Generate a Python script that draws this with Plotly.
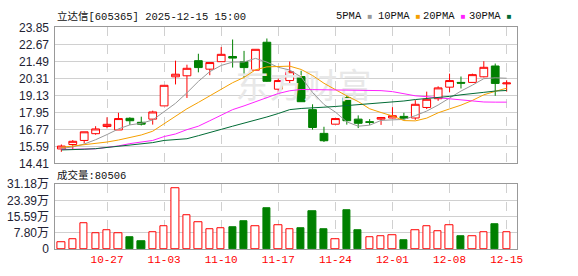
import plotly.graph_objects as go

# ---------------- data ----------------
dates = ["10-21", "10-22", "10-23", "10-24", "10-27", "10-28", "10-29", "10-30", "10-31",
         "11-03", "11-04", "11-05", "11-06", "11-07", "11-10", "11-11", "11-12", "11-13", "11-14",
         "11-17", "11-18", "11-19", "11-20", "11-21", "11-24", "11-25", "11-26", "11-27", "11-28",
         "12-01", "12-02", "12-03", "12-04", "12-05", "12-08", "12-09", "12-10", "12-11", "12-12",
         "12-15"]

open_ = [15.41, 15.72, 16.00, 16.47, 16.97, 16.73, 17.54, 17.26, 17.48, 18.40,
         20.42, 20.49, 21.54, 20.95, 21.47, 21.83, 21.47, 20.88, 22.82, 19.56,
         20.16, 20.44, 18.14, 16.49, 17.13, 18.97, 17.48, 17.30, 17.48, 17.56,
         17.67, 17.56, 18.29, 18.90, 19.70, 20.03, 20.03, 20.42, 21.17, 19.93]
high = [15.72, 16.03, 16.60, 16.99, 17.61, 17.92, 17.61, 17.65, 18.07, 19.83,
        21.54, 21.26, 22.02, 21.41, 22.49, 23.01, 22.22, 22.33, 23.08, 20.29,
        21.48, 20.84, 18.51, 16.95, 17.52, 19.12, 17.74, 17.48, 17.63, 18.31,
        17.92, 18.80, 19.39, 19.76, 20.64, 20.44, 20.64, 21.50, 21.34, 20.18]
low = [15.21, 15.39, 15.79, 16.40, 16.84, 16.73, 17.08, 17.04, 17.10, 18.40,
       19.89, 18.95, 20.73, 20.53, 21.47, 21.06, 20.38, 20.88, 20.07, 19.19,
       19.94, 18.67, 16.75, 15.89, 17.13, 17.10, 16.86, 17.08, 17.08, 17.56,
       17.41, 17.43, 18.18, 18.75, 19.34, 19.61, 20.03, 20.38, 19.10, 19.39]
close = [15.61, 15.94, 16.60, 16.80, 17.12, 17.52, 17.37, 17.13, 17.98, 19.83,
         20.60, 21.01, 21.06, 21.41, 21.98, 21.72, 21.06, 22.33, 20.11, 20.16,
         20.77, 18.69, 16.90, 15.98, 17.52, 17.37, 17.19, 17.26, 17.59, 17.72,
         17.54, 18.51, 18.86, 19.65, 20.16, 19.98, 20.57, 21.08, 19.96, 19.99]

ma5 = [15.45, 15.55, 15.75, 16.05, 16.41, 16.80, 17.08, 17.19, 17.42, 17.97,
       18.58, 19.31, 20.10, 20.78, 21.21, 21.44, 21.45, 21.70, 21.44, 21.08,
       20.89, 20.41, 19.33, 18.50, 17.97, 17.29, 16.99, 17.06, 17.39, 17.43,
       17.46, 17.72, 18.04, 18.46, 18.94, 19.43, 19.84, 20.29, 20.35, 20.32]
ma10 = [15.52, 15.60, 15.70, 15.78, 15.89, 16.03, 16.20, 16.38, 16.64, 17.15,
        17.69, 18.20, 18.64, 19.10, 19.59, 20.01, 20.38, 20.90, 21.11, 21.14,
        21.16, 20.93, 20.51, 19.97, 19.52, 19.09, 18.70, 18.20, 17.94, 17.70,
        17.38, 17.36, 17.55, 17.92, 18.19, 18.45, 18.78, 19.17, 19.41, 19.63]
ma20 = [15.37, 15.38, 15.39, 15.42, 15.52, 15.62, 15.78, 15.90, 16.00, 16.27,
        16.45, 16.75, 16.99, 17.37, 17.74, 18.14, 18.40, 18.68, 19.01, 19.26,
        19.45, 19.54, 19.53, 19.52, 19.52, 19.52, 19.52, 19.51, 19.46, 19.39,
        19.27, 19.10, 19.04, 18.97, 18.86, 18.79, 18.73, 18.67, 18.66, 18.66]
ma30 = [15.34, 15.35, 15.39, 15.43, 15.52, 15.60, 15.65, 15.76, 15.85, 16.00,
        16.06, 16.12, 16.33, 16.53, 16.77, 16.99, 17.19, 17.41, 17.63, 17.87,
        18.14, 18.22, 18.29, 18.31, 18.36, 18.42, 18.47, 18.53, 18.62, 18.68,
        18.74, 18.84, 18.90, 18.97, 19.06, 19.17, 19.23, 19.34, 19.43, 19.47]

volume = [35000, 48700, 122000, 76000, 90000, 76000, 59000, 36500, 81000, 108000,
          290500, 163000, 131000, 94000, 99000, 105000, 132000, 108000, 196000, 113000,
          94000, 100000, 183000, 96000, 46000, 187000, 91000, 55000, 64000, 67000,
          41000, 90000, 108000, 87000, 113000, 64000, 62000, 82000, 119000, 80506]

price_ticks = [14.41, 15.59, 16.77, 17.95, 19.13, 20.31, 21.49, 22.67, 23.85]
vol_ticks = [0, 78000, 155900, 233900, 311800]
vol_tick_text = ["0", "7.80万", "15.59万", "23.39万", "31.18万"]
week_labels = ["10-27", "11-03", "11-10", "11-17", "11-24", "12-01", "12-08", "12-15"]

title_text = "立达信[605365] 2025-12-15 15:00"
vol_title = "成交量:80506"
ma_names = ["5PMA", "10PMA", "20PMA", "30PMA"]
watermark = "东方财富"

# ---------------- styles ----------------
RED = "#ff0000"
GREEN = "#008000"
MA_COLORS = ["#999999", "#f5a000", "#ff22ff", "#006b35"]
GRID = "#d0d0d0"
BORDER = "#999999"
TICKFONT = dict(family="Liberation Sans, Noto Sans CJK SC", size=12, color="#222233")
TEXTFONT = dict(family="Liberation Mono, Noto Sans CJK SC", size=10.5, color="#111111")

W, H = 578, 276
xl, xr = 56, 522
p_top, p_bot = 21.5, 164.7
v_top, v_bot = 186.7, 255

idx = list(range(len(dates)))
tick_idx = [dates.index(d) for d in week_labels]

fig = go.Figure()

# watermark (behind everything)
fig.add_trace(go.Scatter(
    x=[21.2], y=[19.55], mode="text", text=[watermark],
    textfont=dict(family="Noto Sans CJK SC", size=34, color="#e8e8e8"),
    hoverinfo="skip", showlegend=False, xaxis="x", yaxis="y"))

# moving averages
for name, vals, col in zip(ma_names, [ma5, ma10, ma20, ma30], MA_COLORS):
    fig.add_trace(go.Scatter(
        x=idx, y=vals, mode="lines", line=dict(color=col, width=1),
        name=name, hoverinfo="skip", showlegend=False, xaxis="x", yaxis="y"))

# candles
fig.add_trace(go.Candlestick(
    x=idx, open=open_, high=high, low=low, close=close,
    increasing=dict(line=dict(color=RED, width=1), fillcolor="white"),
    decreasing=dict(line=dict(color=GREEN, width=1), fillcolor=GREEN),
    whiskerwidth=0, showlegend=False, xaxis="x", yaxis="y"))

# volume bars (colour by change vs previous close)
prev = [open_[0]] + close[:-1]
up = [c >= p for c, p in zip(close, prev)]
fig.add_trace(go.Bar(
    x=idx, y=volume, width=0.64,
    marker=dict(color=["white" if u else GREEN for u in up],
                line=dict(color=[RED if u else GREEN for u in up], width=1)),
    showlegend=False, hoverinfo="skip", xaxis="x2", yaxis="y2"))

xrange = [-0.52, len(dates) - 1 + 0.87]
common_x = dict(range=xrange, tickmode="array", tickvals=tick_idx,
                showgrid=True, gridcolor=GRID, griddash="dash", gridwidth=1,
                showline=True, linecolor=BORDER, linewidth=1, mirror=True,
                zeroline=False, ticks="", fixedrange=True)

fig.update_layout(
    width=W, height=H, margin=dict(l=0, r=0, t=0, b=0),
    paper_bgcolor="white", plot_bgcolor="white",
    boxgap=0.32, boxgroupgap=0,
    bargap=0,
    xaxis=dict(domain=[xl / W, xr / W], anchor="y", showticklabels=False,
               rangeslider=dict(visible=False), **common_x),
    yaxis=dict(domain=[1 - p_bot / H, 1 - p_top / H], anchor="x",
               range=[price_ticks[0], price_ticks[-1]], tickmode="array",
               tickvals=price_ticks, ticktext=[f"{t:.2f}" for t in price_ticks],
               showgrid=True, gridcolor=GRID, gridwidth=1,
               showline=True, linecolor=BORDER, linewidth=1, mirror=True,
               zeroline=False, ticks="", tickfont=TICKFONT, ticklabelstandoff=3),
    xaxis2=dict(domain=[xl / W, xr / W], anchor="y2", showticklabels=True,
                ticktext=week_labels,
                tickfont=dict(family="Liberation Mono", size=11, color=RED),
                **common_x),
    yaxis2=dict(domain=[1 - v_bot / H, 1 - v_top / H], anchor="x2",
                range=[0, vol_ticks[-1]], tickmode="array",
                tickvals=vol_ticks, ticktext=vol_tick_text,
                showgrid=True, gridcolor=GRID, gridwidth=1,
                showline=True, linecolor=BORDER, linewidth=1, mirror=True,
                zeroline=False, ticks="", tickfont=TICKFONT, ticklabelstandoff=3),
)

annotations = [
    dict(text=title_text, x=xl / W, y=1 - 10 / H, xref="paper", yref="paper",
         xanchor="left", yanchor="middle", showarrow=False, font=TEXTFONT),
    dict(text=vol_title, x=xl / W, y=1 - 177 / H, xref="paper", yref="paper",
         xanchor="left", yanchor="middle", showarrow=False, font=TEXTFONT),
]
leg_x = [338, 380, 425, 472]
for name, col, lx in zip(ma_names, MA_COLORS, leg_x):
    annotations.append(dict(
        text=f"{name} <span style='color:{col};font-size:8px'>■</span>", x=lx / W, y=1 - 10 / H,
        xref="paper", yref="paper", xanchor="left", yanchor="middle",
        showarrow=False, font=TEXTFONT))
fig.update_layout(annotations=annotations)

fig.write_html("out.html")
